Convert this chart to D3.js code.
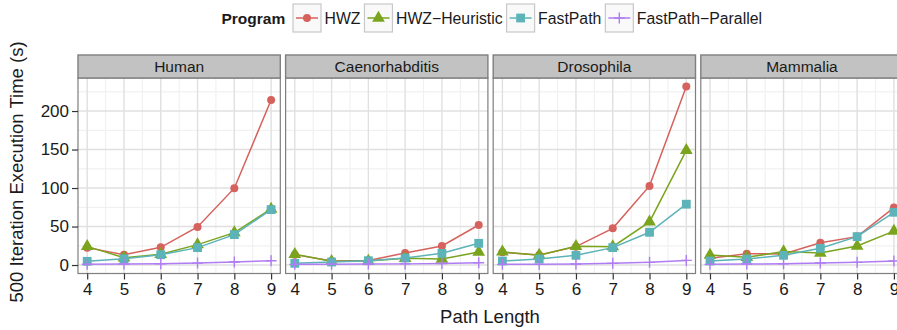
<!DOCTYPE html>
<html>
<head>
<meta charset="utf-8">
<script src="https://cdn.jsdelivr.net/npm/d3@7"></script>
<style>
  html, body { margin: 0; padding: 0; background: #fff; }
  svg { display: block; font-family: "Liberation Sans", Arial, Helvetica, sans-serif; }
</style>
</head>
<body>
<svg id="chart" width="897" height="330"></svg>
<script>
// Facets (one per organism dataset) and the plotted programs
const datasets = ["Human", "Caenorhabditis", "Drosophila", "Mammalia"];
const programs = ["HWZ", "HWZ\u2212Heuristic", "FastPath", "FastPath\u2212Parallel"];
const pathLengths = [4, 5, 6, 7, 8, 9];
const yTicks = [0, 50, 100, 150, 200];

// Execution time (s) for 500 iterations, one row per dataset, one value per path length
const hwzTimes = [
  [22.6, 13.4, 23.0, 49.5, 99.8, 214.3],
  [13.5, 5.2, 6.0, 15.6, 24.7, 52.0],
  [16.5, 13.0, 23.9, 47.7, 102.8, 232.0],
  [8.7, 14.7, 14.3, 29.0, 36.9, 74.6]
];
const heuristicTimes = [
  [24.2, 9.5, 13.9, 26.5, 42.0, 72.8],
  [14.0, 4.8, 5.2, 8.7, 7.8, 16.8],
  [17.0, 12.8, 24.3, 23.9, 56.0, 149.0],
  [13.0, 10.0, 17.5, 15.6, 24.7, 44.0]
];
const fastPathTimes = [
  [4.8, 8.2, 13.4, 22.6, 39.5, 72.0],
  [2.2, 3.9, 5.6, 9.1, 15.2, 28.2],
  [5.2, 7.8, 12.6, 22.6, 42.5, 79.0],
  [5.2, 7.8, 12.6, 21.7, 36.9, 68.5]
];
const parallelTimes = [
  [1.0, 1.3, 1.7, 2.5, 4.0, 5.6],
  [0.9, 1.0, 1.2, 1.5, 2.0, 3.0],
  [0.9, 0.9, 1.3, 2.2, 3.5, 6.0],
  [0.9, 1.3, 1.7, 2.6, 3.5, 5.2]
];

const seriesTimes = [hwzTimes, heuristicTimes, fastPathTimes, parallelTimes];
const colors = ["#d6625d", "#7aa41d", "#5cb3b8", "#b07cf4"];
const shapes = ["circle", "triangle", "square", "cross"];

const svg = d3.select("#chart");

// Layout of facet panels
const panelLeft0 = 78, panelW = 202.3, panelGap = 5.3;
const stripTop = 55, plotTop = 78, plotBottom = 273.5;
const plotH = plotBottom - plotTop;

const x = d3.scaleLinear().domain([3.75, 9.25]).range([0, panelW]);
const y = d3.scaleLinear().domain([-11.0, 242.9]).range([plotH, 0]);

function drawMarker(sel, shape, color) {
  if (shape === "circle") {
    sel.append("circle").attr("r", 4).attr("fill", color);
  } else if (shape === "triangle") {
    sel.append("path").attr("d", d3.symbol(d3.symbolTriangle, 70)()).attr("fill", color);
  } else if (shape === "square") {
    sel.append("rect").attr("x", -4.4).attr("y", -4.4).attr("width", 8.8).attr("height", 8.8).attr("fill", color);
  } else {
    sel.append("path").attr("d", "M-5.5,0H5.5M0,-5.5V5.5")
      .attr("stroke", color).attr("stroke-width", 1.4).attr("fill", "none");
  }
}

const line = d3.line().x((d, i) => x(pathLengths[i])).y(d => y(d));

datasets.forEach((name, di) => {
  const left = panelLeft0 + di * (panelW + panelGap);
  const g = svg.append("g").attr("transform", `translate(${left},${plotTop})`);

  // panel background
  g.append("rect").attr("width", panelW).attr("height", plotH).attr("fill", "#fff");

  // minor grid
  const xMinor = [4.5, 5.5, 6.5, 7.5, 8.5];
  const yMinor = [25, 75, 125, 175, 225];
  g.selectAll(".xminor").data(xMinor).join("line")
    .attr("x1", d => x(d)).attr("x2", d => x(d)).attr("y1", 0).attr("y2", plotH)
    .attr("stroke", "#f1f1f1").attr("stroke-width", 1.2);
  g.selectAll(".yminor").data(yMinor).join("line")
    .attr("y1", d => y(d)).attr("y2", d => y(d)).attr("x1", 0).attr("x2", panelW)
    .attr("stroke", "#f1f1f1").attr("stroke-width", 1.2);
  // major grid
  g.selectAll(".xmajor").data(pathLengths).join("line")
    .attr("x1", d => x(d)).attr("x2", d => x(d)).attr("y1", 0).attr("y2", plotH)
    .attr("stroke", "#e0e0e0").attr("stroke-width", 1.4);
  g.selectAll(".ymajor").data(yTicks).join("line")
    .attr("y1", d => y(d)).attr("y2", d => y(d)).attr("x1", 0).attr("x2", panelW)
    .attr("stroke", "#e0e0e0").attr("stroke-width", 1.4);

  // series lines and markers
  seriesTimes.forEach((times, si) => {
    const vals = times[di];
    g.append("path").datum(vals).attr("d", line)
      .attr("fill", "none").attr("stroke", colors[si]).attr("stroke-width", 1.5);
    vals.forEach((v, i) => {
      const m = g.append("g").attr("transform", `translate(${x(pathLengths[i])},${y(v)})`);
      drawMarker(m, shapes[si], colors[si]);
    });
  });

  // panel border
  g.append("rect").attr("width", panelW).attr("height", plotH)
    .attr("fill", "none").attr("stroke", "#7f7f7f").attr("stroke-width", 1.2);

  // strip
  const s = svg.append("g").attr("transform", `translate(${left},${stripTop})`);
  s.append("rect").attr("width", panelW).attr("height", plotTop - stripTop)
    .attr("fill", "#c2c2c2").attr("stroke", "#7f7f7f").attr("stroke-width", 1.4);
  s.append("text").attr("x", panelW / 2).attr("y", (plotTop - stripTop) / 2 + 5.5)
    .attr("text-anchor", "middle").attr("font-size", 15.5).attr("fill", "#1a1a1a").text(name);

  // x axis
  const xAxis = d3.axisBottom(x).tickValues(pathLengths).tickSize(6).tickPadding(3).tickFormat(d3.format("d"));
  const ax = svg.append("g").attr("transform", `translate(${left},${plotBottom})`).call(xAxis);
  ax.select(".domain").remove();
  ax.selectAll(".tick line").attr("stroke", "#333").attr("stroke-width", 1.2);
  ax.selectAll(".tick text").attr("font-size", 17).attr("fill", "#1a1a1a")
    .attr("font-family", "'Liberation Sans', Arial, sans-serif");

  if (di === 0) {
    const yAxis = d3.axisLeft(y).tickValues(yTicks).tickSize(6).tickPadding(3);
    const ay = svg.append("g").attr("transform", `translate(${left},${plotTop})`).call(yAxis);
    ay.select(".domain").remove();
    ay.selectAll(".tick line").attr("stroke", "#333").attr("stroke-width", 1.2);
    ay.selectAll(".tick text").attr("font-size", 17).attr("fill", "#1a1a1a")
      .attr("font-family", "'Liberation Sans', Arial, sans-serif");
  }
});

// axis titles
svg.append("text").attr("x", 490).attr("y", 322.5).attr("text-anchor", "middle")
  .attr("font-size", 18.5).attr("fill", "#1a1a1a").text("Path Length");
svg.append("text").attr("transform", "translate(23,172) rotate(-90)").attr("text-anchor", "middle")
  .attr("font-size", 18.5).attr("fill", "#1a1a1a").text("500 Iteration Execution Time (s)");

// legend
const legend = svg.append("g");
legend.append("text").attr("x", 221.5).attr("y", 23.5).attr("font-size", 15.5)
  .attr("font-weight", "bold").attr("fill", "#1a1a1a").text("Program");
let lx = 293;
const keySize = 28, keyTop = 4;
programs.forEach((p, i) => {
  const k = legend.append("g").attr("transform", `translate(${lx},${keyTop})`);
  k.append("rect").attr("width", keySize).attr("height", keySize)
    .attr("fill", "#f9f9f9").attr("stroke", "#c8c8c8").attr("stroke-width", 1.2);
  k.append("line").attr("x1", 3).attr("x2", keySize - 3).attr("y1", keySize / 2).attr("y2", keySize / 2)
    .attr("stroke", colors[i]).attr("stroke-width", 1.5);
  const m = k.append("g").attr("transform", `translate(${keySize / 2},${keySize / 2})`);
  drawMarker(m, shapes[i], colors[i]);
  const t = legend.append("text").attr("x", lx + keySize + 3.5).attr("y", 23.5)
    .attr("font-size", 15.8).attr("fill", "#1a1a1a").text(p);
  lx += keySize + 3.5 + t.node().getComputedTextLength() + 4;
});
</script>
</body>
</html>
